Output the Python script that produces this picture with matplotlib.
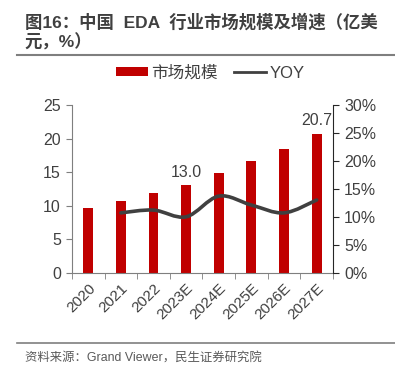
import matplotlib
matplotlib.use("Agg")
import matplotlib.pyplot as plt
from matplotlib.path import Path
from matplotlib.patches import PathPatch, Patch
from matplotlib.lines import Line2D
import numpy as np

plt.rcParams['font.family'] = ['Liberation Sans', 'Noto Sans CJK SC', 'DejaVu Sans']

categories = ["2020", "2021", "2022", "2023E", "2024E", "2025E", "2026E", "2027E"]
market_size = [9.7, 10.7, 11.9, 13.0, 14.8, 16.6, 18.4, 20.7]
yoy = [None, 10.7, 11.2, 10.0, 13.7, 12.1, 10.7, 13.0]
labels_shown = {"2023E": "13.0", "2027E": "20.7"}

title = "图16：中国  EDA  行业市场规模及增速（亿美\n元，%）"
source = "资料来源：Grand Viewer，民生证券研究院"

BAR = "#C00000"
LINE = "#404040"
TXT = "#404040"

fig = plt.figure(figsize=(3.95, 3.80), dpi=100)
ax = fig.add_axes([0.182, 0.2824, 0.661, 0.4413])
ax2 = ax.twinx()

x = np.arange(len(categories))
ax.bar(x, market_size, width=0.3, color=BAR, zorder=2)
ax.set_xlim(-0.5, len(categories) - 0.5)
ax.set_ylim(0, 25)
ax.set_yticks(range(0, 26, 5))

for i, c in enumerate(categories):
    if c in labels_shown:
        ax.annotate(labels_shown[c], (x[i], market_size[i]), xytext=(0, 4),
                    textcoords="offset points", ha="center", va="bottom",
                    fontsize=11.5, color=TXT)

# smoothed YOY line (Catmull-Rom to Bezier)
pts = [(x[i], v) for i, v in enumerate(yoy) if v is not None]
P = np.array(pts, dtype=float)
verts = [tuple(P[0])]
codes = [Path.MOVETO]
n = len(P)
for i in range(n - 1):
    p0 = P[i - 1] if i > 0 else P[i]
    p1 = P[i]
    p2 = P[i + 1]
    p3 = P[i + 2] if i + 2 < n else P[i + 1]
    c1 = p1 + (p2 - p0) / 6.0
    c2 = p2 - (p3 - p1) / 6.0
    verts += [tuple(c1), tuple(c2), tuple(p2)]
    codes += [Path.CURVE4] * 3
ax2.add_patch(PathPatch(Path(verts, codes), facecolor="none", edgecolor=LINE,
                        lw=2.6, capstyle="round", zorder=3))
ax2.set_ylim(0, 30)
ax2.set_yticks(range(0, 31, 5))
ax2.set_yticklabels([f"{v}%" for v in range(0, 31, 5)])

# axes styling
for a in (ax, ax2):
    a.spines["top"].set_visible(False)
ax.spines["right"].set_visible(False)
ax.spines["left"].set_color("#7f7f7f")
ax.spines["bottom"].set_color("#7f7f7f")
ax2.spines["left"].set_visible(False)
ax2.spines["bottom"].set_visible(False)
ax2.spines["right"].set_color("#262626")

ax.set_xticks(x)
ax.set_xticklabels(categories, rotation=45, ha="right", rotation_mode="anchor",
                   fontsize=11, color=TXT)
ax.tick_params(axis="x", which="major", length=0, pad=6)
ax.set_xticks(np.arange(-0.5, len(categories), 1), minor=True)
ax.tick_params(axis="x", which="minor", length=4, color="#7f7f7f", direction="out")
ax.tick_params(axis="y", length=4, color="#7f7f7f", labelsize=11.5, labelcolor=TXT, pad=4)
ax2.tick_params(axis="y", length=4, color="#262626", labelsize=11.5, labelcolor=TXT, pad=4)

# legend
handles = [Patch(facecolor=BAR, edgecolor="none"),
           Line2D([0], [0], color=LINE, lw=2.0)]
fig.legend(handles, ["市场规模", "YOY"], loc="center", bbox_to_anchor=(0.532, 0.808),
           ncol=2, frameon=False, fontsize=12, handlelength=1.9, handleheight=0.5,
           columnspacing=1.0, handletextpad=0.2, labelcolor=TXT)

# title and source
fig.text(0.063, 0.965, title, fontsize=12.5, fontweight="bold", color="#404040",
         va="top", ha="left", linespacing=1.15)
fig.add_artist(Line2D([0.043, 1.0], [0.855, 0.855], color="#7f7f7f", lw=1.5,
                      transform=fig.transFigure))
fig.add_artist(Line2D([0.043, 1.0], [0.097, 0.097], color="#7f7f7f", lw=1.2,
                      transform=fig.transFigure))
fig.text(0.063, 0.06, source, fontsize=8.9, color="#595959", va="center", ha="left")

fig.savefig("out.png", dpi=100)
